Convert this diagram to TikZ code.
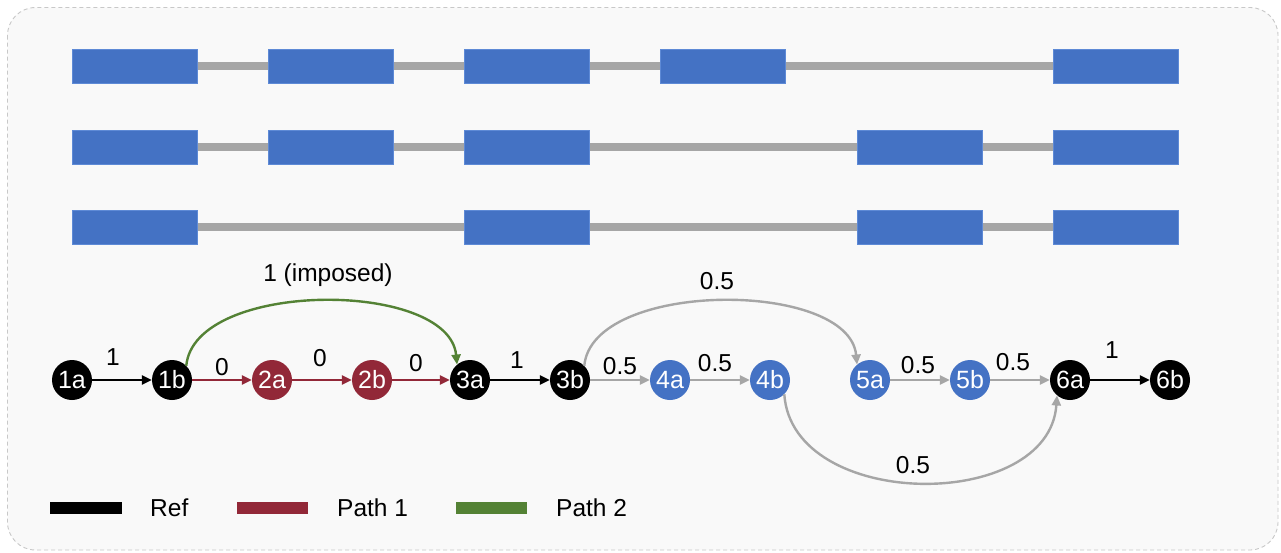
\documentclass[tikz,border=0pt]{standalone}
\usepackage{fontspec}
\setmainfont{Liberation Sans}
\usetikzlibrary{arrows.meta}
\definecolor{exonblue}{HTML}{4472C4}
\definecolor{exonedge}{HTML}{5E8AD6}
\definecolor{intron}{HTML}{A6A6A6}
\definecolor{pathred}{HTML}{922838}
\definecolor{pathgreen}{HTML}{548235}
\definecolor{framefill}{HTML}{F9F9F9}
\definecolor{framedash}{HTML}{C8C8C8}
\begin{document}
\begin{tikzpicture}[x=1pt,y=-1pt,
  nd/.style={circle, minimum size=40pt, inner sep=0pt, text=white, font=\fontsize{25}{28}\selectfont},
  lbl/.style={font=\fontsize{24.5}{29}\selectfont, inner sep=0pt, text=black},
  legtext/.style={font=\fontsize{24.5}{29}\selectfont, inner sep=0pt, anchor=west},
  edge/.style={line width=2.4pt, -{Triangle[length=10pt,width=9pt]}},
  exon/.style={fill=exonblue, draw=exonedge, line width=0.8pt},
  intronline/.style={line width=8pt, intron},
  legline/.style={line width=12pt}]
\useasboundingbox (0,0) rectangle (1281,552);
\fill[white] (0,0) rectangle (1281,552);
\draw[framedash, fill=framefill, line width=0.9pt, dash pattern=on 4pt off 3pt, rounded corners=28pt] (7.5,7.5) rectangle (1278,550);

% transcript rows
\draw[intronline] (197,66) -- (1053,66);
\foreach \a in {72,268,464,660,1053} \draw[exon] (\a,49) rectangle ++(125,34);
\draw[intronline] (197,147) -- (1053,147);
\foreach \a in {72,268,464,857,1053} \draw[exon] (\a,130) rectangle ++(125,34);
\draw[intronline] (197,227) -- (1053,227);
\foreach \a in {72,464,857,1053} \draw[exon] (\a,210) rectangle ++(125,34);

% nodes
\node[nd, fill=black] (n1a) at (72,380) {1a};
\node[nd, fill=black] (n1b) at (172,380) {1b};
\node[nd, fill=pathred] (n2a) at (272,380) {2a};
\node[nd, fill=pathred] (n2b) at (372,380) {2b};
\node[nd, fill=black] (n3a) at (470,380) {3a};
\node[nd, fill=black] (n3b) at (570,380) {3b};
\node[nd, fill=exonblue] (n4a) at (670,380) {4a};
\node[nd, fill=exonblue] (n4b) at (770,380) {4b};
\node[nd, fill=exonblue] (n5a) at (870,380) {5a};
\node[nd, fill=exonblue] (n5b) at (970,380) {5b};
\node[nd, fill=black] (n6a) at (1070,380) {6a};
\node[nd, fill=black] (n6b) at (1170,380) {6b};

% straight edges
\draw[edge, black] (n1a) -- (n1b);
\draw[edge, pathred] (n1b) -- (n2a);
\draw[edge, pathred] (n2a) -- (n2b);
\draw[edge, pathred] (n2b) -- (n3a);
\draw[edge, black] (n3a) -- (n3b);
\draw[edge, intron] (n3b) -- (n4a);
\draw[edge, intron] (n4a) -- (n4b);
\draw[edge, intron] (n5a) -- (n5b);
\draw[edge, intron] (n5b) -- (n6a);
\draw[edge, black] (n6a) -- (n6b);

% arcs
\draw[edge, pathgreen] (n1b.45) .. controls +(8,-86) and +(-8,-85) .. (n3a.130);
\draw[edge, intron] (n3b.45) .. controls +(8,-86) and +(-8,-85) .. (n5a.130);
\draw[edge, intron] (n4b.-45) .. controls +(8,117) and +(-8,117) .. (n6a.-130);

% edge labels
\node[lbl] (e1) at (113,357) {1};
\node[lbl] (e2) at (222,367) {0};
\node[lbl] (e3) at (320,358) {0};
\node[lbl] (e4) at (416,363) {0};
\node[lbl] (e5) at (517,360) {1};
\node[lbl] (e6) at (620,366) {0.5};
\node[lbl] (e7) at (715,363) {0.5};
\node[lbl] (e8) at (918,365) {0.5};
\node[lbl] (e9) at (1013,362) {0.5};
\node[lbl] (e10) at (1112,350) {1};
\node[lbl] (e11) at (328,275) {1 (imposed)};
\node[lbl] (e12) at (717,281) {0.5};
\node[lbl] (e13) at (913,465) {0.5};

% legend
\coordinate (lgA1) at (50,508); \coordinate (lgA2) at (122,508);
\coordinate (lgB1) at (237,508); \coordinate (lgB2) at (308,508);
\coordinate (lgC1) at (456,508); \coordinate (lgC2) at (527,508);
\draw[legline, black] (lgA1) -- (lgA2);
\draw[legline, pathred] (lgB1) -- (lgB2);
\draw[legline, pathgreen] (lgC1) -- (lgC2);
\node[legtext] (tA) at (150,508) {Ref};
\node[legtext] (tB) at (337,508) {Path 1};
\node[legtext] (tC) at (556,508) {Path 2};
\end{tikzpicture}
\end{document}
